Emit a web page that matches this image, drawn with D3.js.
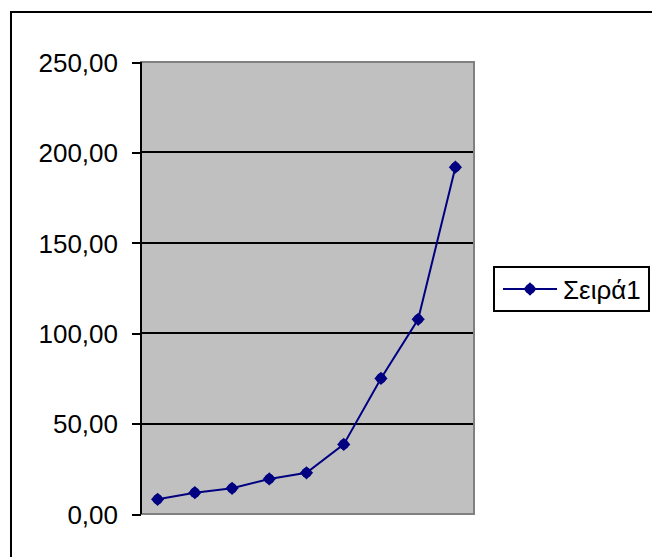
<!DOCTYPE html>
<html>
<head>
<meta charset="utf-8">
<script src="https://cdn.jsdelivr.net/npm/d3@7"></script>
<style>
  html, body { margin: 0; padding: 0; background: #ffffff; }
  svg { display: block; }
  text { font-family: "Liberation Sans", Arial, sans-serif; fill: #000; }
</style>
</head>
<body>
<svg id="chart" width="652" height="557"></svg>
<script>
// Series data: nine points of a single series
const categories = ["1", "2", "3", "4", "5", "6", "7", "8", "9"];
const values = [8.1, 11.8, 14.2, 19.4, 22.8, 38.5, 75.0, 107.7, 191.8];
const yTicks = [0, 50, 100, 150, 200, 250];
const seriesName = "Σειρά1";

const svg = d3.select("#chart");

// Chart frame (extends past the right and bottom edges of the view)
svg.append("rect")
  .attr("x", 11).attr("y", 12)
  .attr("width", 700).attr("height", 600)
  .attr("fill", "#fff").attr("stroke", "#000").attr("stroke-width", 2)
  .attr("shape-rendering", "crispEdges");

const plot = { left: 141, right: 474, top: 62, bottom: 514 };

const x = d3.scaleBand().domain(categories).range([139, plot.right]);
const y = d3.scaleLinear().domain([0, 250]).range([plot.bottom, plot.top]);

// Plot area
svg.append("rect")
  .attr("x", plot.left).attr("y", plot.top)
  .attr("width", plot.right - plot.left).attr("height", plot.bottom - plot.top)
  .attr("fill", "#c0c0c0").attr("stroke", "#808080").attr("stroke-width", 2)
  .attr("shape-rendering", "crispEdges");
// slightly heavier top edge
svg.append("line")
  .attr("x1", plot.left).attr("x2", plot.right)
  .attr("y1", plot.top - 0.5).attr("y2", plot.top - 0.5)
  .attr("stroke", "#808080").attr("stroke-width", 2)
  .attr("shape-rendering", "crispEdges");

// Horizontal gridlines
svg.append("g")
  .selectAll("line")
  .data(yTicks.filter(t => t > 0 && t < 250))
  .join("line")
  .attr("x1", plot.left).attr("x2", plot.right - 1)
  .attr("y1", d => y(d)).attr("y2", d => y(d))
  .attr("stroke", "#000").attr("stroke-width", 2)
  .attr("shape-rendering", "crispEdges");

// Value axis
const yAxis = d3.axisLeft(y)
  .tickValues(yTicks)
  .tickSize(9)
  .tickPadding(14)
  .tickFormat(d => d3.format(".2f")(d).replace(".", ","));

const gy = svg.append("g")
  .attr("transform", `translate(${plot.left},0)`)
  .call(yAxis);
gy.select(".domain")
  .attr("d", `M0,${plot.top}V${plot.bottom}`)
  .attr("stroke", "#000").attr("stroke-width", 2)
  .attr("shape-rendering", "crispEdges");
gy.selectAll(".tick line")
  .attr("stroke", "#000").attr("stroke-width", 2)
  .attr("shape-rendering", "crispEdges");
gy.selectAll(".tick text")
  .attr("font-family", "'Liberation Sans', Arial, sans-serif")
  .attr("font-size", 26)
  .attr("fill", "#000")
  .attr("dy", "0.36em");

// Series line
const cx = d => x(d) + x.bandwidth() / 2;
const line = d3.line()
  .x((d, i) => cx(categories[i]))
  .y(d => y(d));

svg.append("path")
  .datum(values)
  .attr("d", line)
  .attr("fill", "none")
  .attr("stroke", "#000080")
  .attr("stroke-width", 2);

// Diamond markers
const diamond = d3.symbol().type(d3.symbolSquare).size(88);
const dot = d3.symbol().type(d3.symbolCircle).size(80);

function drawMarker(g, px, py) {
  g.append("path").attr("d", diamond())
    .attr("transform", `translate(${px},${py}) rotate(45)`)
    .attr("fill", "#000080");
  g.append("path").attr("d", dot())
    .attr("transform", `translate(${px},${py})`)
    .attr("fill", "#000080");
}

const markers = svg.append("g");
values.forEach((v, i) => drawMarker(markers, cx(categories[i]), y(v)));

// Legend
const legend = svg.append("g");
legend.append("rect")
  .attr("x", 494).attr("y", 267)
  .attr("width", 155).attr("height", 44)
  .attr("fill", "#fff").attr("stroke", "#000").attr("stroke-width", 2)
  .attr("shape-rendering", "crispEdges");
legend.append("line")
  .attr("x1", 503).attr("x2", 557)
  .attr("y1", 289).attr("y2", 289)
  .attr("stroke", "#000080").attr("stroke-width", 2);
drawMarker(legend, 530, 289);
legend.append("text")
  .attr("x", 563).attr("y", 299)
  .attr("font-size", 26)
  .text(seriesName);
</script>
</body>
</html>
